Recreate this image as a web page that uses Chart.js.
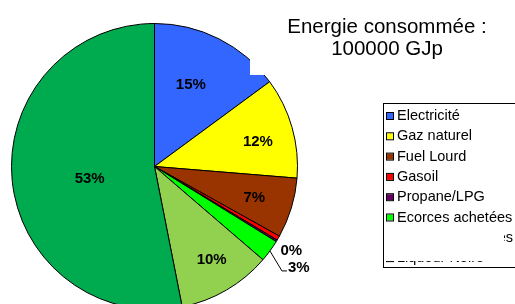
<!DOCTYPE html>
<html lang="fr">

<head>
    <meta charset="utf-8" />
    <title>Energie consommée</title>
    <script src="https://cdn.jsdelivr.net/npm/chart.js"></script>
    <style>
        body { margin: 0; background: #fff; }
        /* le camembert déborde en bas, comme sur l'original */
        #wrap { width: 515px; height: 304px; overflow: hidden; }
    </style>
</head>

<body>
    <div id="wrap">
        <canvas id="pie" width="515" height="330"></canvas>
    </div>

    <script>
        // données (en % de l'énergie consommée)
        const categories = ['Electricité', 'Gaz naturel', 'Fuel Lourd', 'Gasoil', 'Propane/LPG',
            'Ecorces achetées', 'Ecorces produites', 'Liqueur Noire'];
        const parts = [14.9, 11.4, 6.8, 0.5, 0.2, 2.5, 10.6, 53.1];
        const pctLabels = ['15%', '12%', '7%', '', '0%', '3%', '10%', '53%'];
        const colors = ['#3366FF', '#FFFF00', '#993300', '#FF0000', '#660066', '#00FF00', '#92D050', '#00AA4E'];
        const titleLines = ['Energie consommée :', '100000 GJp'];

        const FONT = '"Liberation Sans", Arial, sans-serif';

        // position des étiquettes : fraction du rayon et décalage d'angle (degrés)
        const labelPos = [0.63, 0.745, 0.73, 0, 1.12, 0, 0.76, 0.46];
        const labelTurn = [-3, 2, 0, 0, 0, 0, -1.5, -4];

        const decor = {
            id: 'decor',
            afterDatasetsDraw(chart) {
                const ctx = chart.ctx;
                const arcs = chart.getDatasetMeta(0).data;
                ctx.save();

                // étiquettes des parts
                ctx.font = 'bold 15px ' + FONT;
                ctx.fillStyle = '#000';
                ctx.textAlign = 'center';
                ctx.textBaseline = 'middle';
                arcs.forEach((arc, i) => {
                    const txt = pctLabels[i];
                    if (!txt) return;
                    const a = (arc.startAngle + arc.endAngle) / 2 + labelTurn[i] * Math.PI / 180;
                    const r = arc.outerRadius;
                    if (i === 5) {
                        // étiquette avec trait de rappel
                        const x0 = arc.x + r * Math.cos(a), y0 = arc.y + r * Math.sin(a);
                        const x1 = x0 + 12, y1 = y0 + 20;
                        ctx.strokeStyle = '#000';
                        ctx.lineWidth = 1;
                        ctx.beginPath();
                        ctx.moveTo(x0, y0);
                        ctx.lineTo(x1, y1);
                        ctx.lineTo(x1 + 5, y1);
                        ctx.stroke();
                        ctx.textAlign = 'left';
                        ctx.fillText(txt, x1 + 6, y1 - 3);
                        ctx.textAlign = 'center';
                        return;
                    }
                    const k = labelPos[i];
                    ctx.fillText(txt, arc.x + r * k * Math.cos(a), arc.y + 1 + r * k * Math.sin(a));
                });

                // cadre du titre (recouvre un coin du camembert)
                ctx.fillStyle = '#fff';
                ctx.fillRect(250, 0, 265, 75);
                ctx.fillStyle = '#000';
                ctx.font = '20.5px ' + FONT;
                ctx.textAlign = 'center';
                ctx.fillText(titleLines[0], 387, 27);
                ctx.fillText(titleLines[1], 387, 49);

                // légende
                const lx = 383, ly = 103, row = 20.3;
                ctx.strokeStyle = '#000';
                ctx.lineWidth = 1;
                ctx.strokeRect(lx + 0.5, ly + 0.5, 140, 164);
                ctx.font = '14.5px ' + FONT;
                ctx.textAlign = 'left';
                categories.forEach((c, i) => {
                    const y = ly + 13 + i * row;
                    ctx.fillStyle = colors[i];
                    ctx.fillRect(lx + 4, y - 3, 6, 6);
                    ctx.strokeStyle = '#000';
                    ctx.strokeRect(lx + 3.5, y - 3.5, 7, 7);
                    ctx.fillStyle = '#000';
                    ctx.fillText(c, lx + 14, y);
                });

                // zone masquée de la légende
                ctx.fillStyle = '#fff';
                ctx.fillRect(lx + 1, 222, 120, 39);
                ctx.restore();
            }
        };

        new Chart(document.getElementById('pie'), {
            type: 'pie',
            data: {
                labels: categories,
                datasets: [{
                    data: parts,
                    backgroundColor: colors,
                    borderColor: '#000',
                    borderWidth: 1,
                    hoverOffset: 0
                }]
            },
            options: {
                responsive: false,
                animation: false,
                layout: { padding: { left: 11, right: 217, top: 23, bottom: 20 } },
                plugins: {
                    legend: { display: false },
                    tooltip: { enabled: false },
                    title: { display: false }
                }
            },
            plugins: [decor]
        });
    </script>
</body>

</html>
